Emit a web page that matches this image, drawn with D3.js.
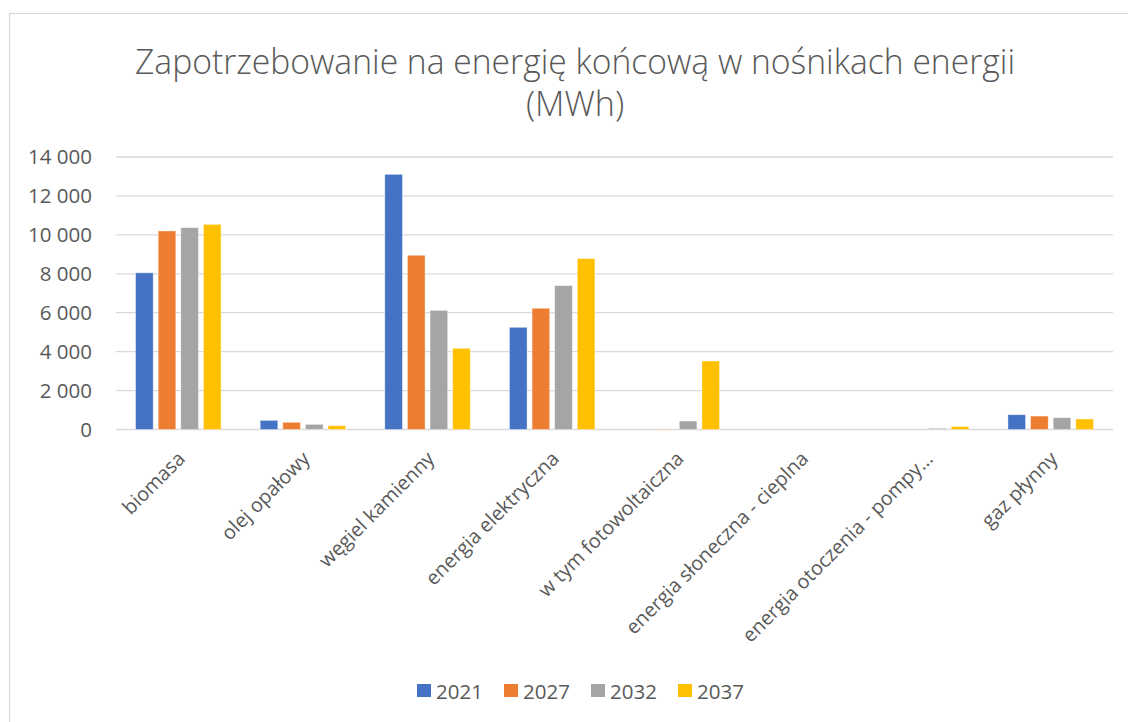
<!DOCTYPE html>
<html>
<head>
<meta charset="utf-8">
<script src="https://cdn.jsdelivr.net/npm/d3@7"></script>
<style>
  body { margin: 0; background: #fff; }
  svg text { font-family: "Open Sans", sans-serif; fill: #595959; }
</style>
</head>
<body>
<div id="chart"></div>
<script>
// kategorie i serie
const categories = [
  "biomasa",
  "olej opałowy",
  "węgiel kamienny",
  "energia elektryczna",
  "w tym fotowoltaiczna",
  "energia słoneczna - cieplna",
  "energia otoczenia - pompy…",
  "gaz płynny"
];
const years = ["2021", "2027", "2032", "2037"];
const colors = ["#4472C4", "#ED7D31", "#A5A5A5", "#FFC000"];

const v2021 = [8050, 470, 13110, 5250, 0, 0, 0, 760];
const v2027 = [10200, 370, 8950, 6230, 20, 0, 0, 690];
const v2032 = [10370, 265, 6120, 7390, 435, 0, 60, 605];
const v2037 = [10540, 195, 4170, 8780, 3520, 0, 150, 540];
const seriesValues = [v2021, v2027, v2032, v2037];

const yTicks = [0, 2000, 4000, 6000, 8000, 10000, 12000, 14000];
const titleLines = ["Zapotrzebowanie na energię końcową w nośnikach energii", "(MWh)"];

const width = 1128, height = 722;

const svg = d3.select("#chart").append("svg")
  .attr("width", width)
  .attr("height", height);

// ramka wykresu
svg.append("rect")
  .attr("x", 9.5).attr("y", 13.5)
  .attr("width", 1300).attr("height", 900)
  .attr("fill", "#fff")
  .attr("stroke", "#d9d9d9")
  .attr("stroke-width", 1.2);

// tytuł
const title = svg.append("g");
title.selectAll("text")
  .data(titleLines)
  .enter()
  .append("text")
  .attr("x", 575)
  .attr("y", (d, i) => 74 + i * 42)
  .attr("text-anchor", "middle")
  .attr("font-size", "34px")
  .attr("font-weight", 300)
  .text(d => d)
  .each(function (d, i) {
    const target = i === 0 ? 880 : 106;
    if (this.getComputedTextLength() > target) {
      d3.select(this).attr("textLength", target).attr("lengthAdjust", "spacingAndGlyphs");
    }
  });

// skale
const x0 = d3.scaleBand()
  .domain(categories)
  .range([116, 1113])
  .paddingInner(0)
  .paddingOuter(0);

const x1 = d3.scaleBand()
  .domain(years)
  .range([0, x0.bandwidth()])
  .paddingInner(0.22)
  .paddingOuter(0.865);

const y = d3.scaleLinear()
  .domain([0, 14000])
  .range([429.5, 157]);

const fmt = d => d3.format(",")(d).replace(/,/g, " ");

// siatka
svg.append("g")
  .selectAll("line")
  .data(yTicks)
  .enter()
  .append("line")
  .attr("x1", 116).attr("x2", 1113)
  .attr("y1", d => y(d)).attr("y2", d => y(d))
  .attr("stroke", "#d9d9d9")
  .attr("stroke-width", 1.3);

// oś Y
svg.append("g")
  .selectAll("text")
  .data(yTicks)
  .enter()
  .append("text")
  .attr("x", 92)
  .attr("y", d => y(d))
  .attr("dy", "0.36em")
  .attr("text-anchor", "end")
  .attr("font-size", "20.5px")
  .text(fmt);

// słupki
const groups = svg.append("g")
  .selectAll("g")
  .data(categories)
  .enter()
  .append("g")
  .attr("transform", d => `translate(${x0(d)},0)`);

groups.selectAll("rect")
  .data((c, ci) => years.map((yr, si) => ({ yr, si, value: seriesValues[si][ci] })))
  .enter()
  .append("rect")
  .attr("x", d => x1(d.yr))
  .attr("width", x1.bandwidth())
  .attr("y", d => y(d.value))
  .attr("height", d => y(0) - y(d.value))
  .attr("fill", d => colors[d.si])
  .attr("stroke", "#fff")
  .attr("stroke-opacity", 0.5)
  .attr("stroke-width", 0.8);

// etykiety osi X
svg.append("g")
  .selectAll("text")
  .data(categories)
  .enter()
  .append("text")
  .attr("transform", d => `translate(${x0(d) + x0.bandwidth() / 2 + 8},460) rotate(-45)`)
  .attr("text-anchor", "end")
  .attr("font-size", "19.8px")
  .text(d => d);

// legenda
const legend = svg.append("g")
  .selectAll("g")
  .data(years)
  .enter()
  .append("g")
  .attr("transform", (d, i) => `translate(${417 + i * 87},684)`);

legend.append("rect")
  .attr("width", 14).attr("height", 13)
  .attr("fill", (d, i) => colors[i]);

legend.append("text")
  .attr("x", 19)
  .attr("y", 14.5)
  .attr("font-size", "20.5px")
  .text(d => d);
</script>
</body>
</html>
